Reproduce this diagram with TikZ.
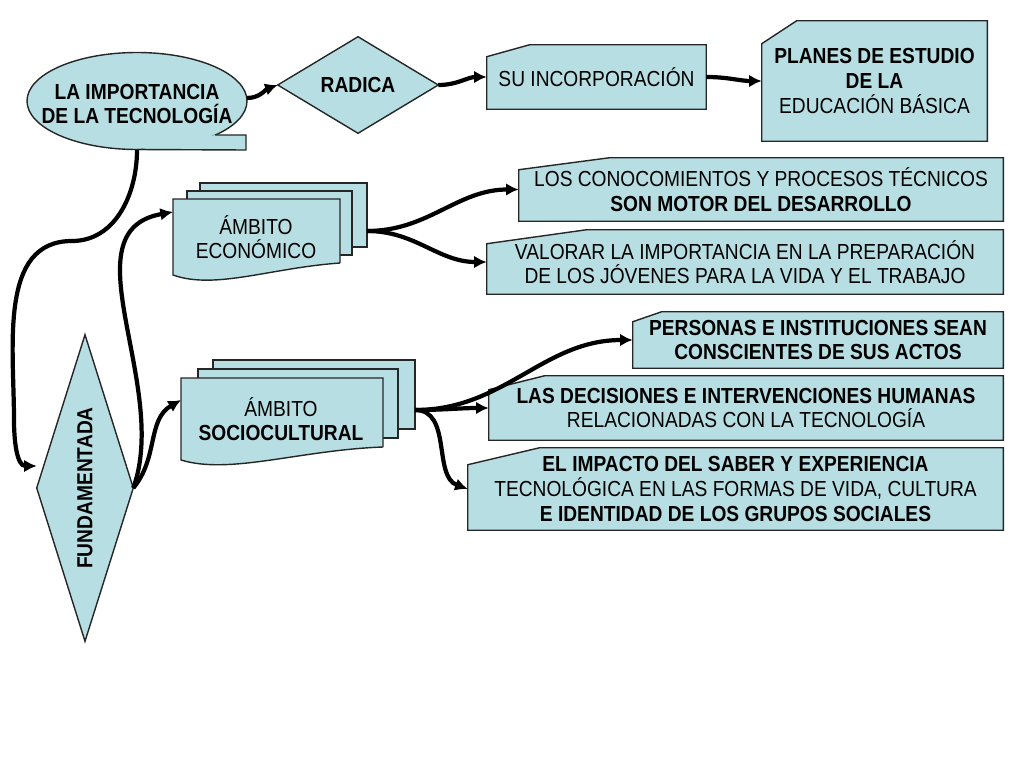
\documentclass[tikz,border=0pt]{standalone}
\usepackage{fontspec}
\setmainfont{Liberation Sans}[FakeStretch=0.88]
\usepackage{tikz}
\usetikzlibrary{arrows.meta,positioning,backgrounds,calc}
\definecolor{boxblue}{RGB}{183,223,227}
\tikzset{
	shapeline/.style = {draw=black!85, line width=1pt, fill=boxblue},
	boxtext/.style = {align=center, inner sep=0pt, font=\fontsize{15.5}{17.5}\selectfont},
	conn/.style = {line width=3pt, -{Latex[length=9pt,width=9pt]}},
}
% cut corner box drawn behind a named node: name, cut dx, cut dy (px)
\newcommand\cutedge[3]{%
	\begin{pgfonlayer}{background}
	\draw[shapeline] (#1.south west) -- ([yshift=-#3*0.025cm]#1.north west)
		-- ([xshift=#2*0.025cm]#1.north west) -- (#1.north east) -- (#1.south east) -- cycle;
	\end{pgfonlayer}}
\newcommand\diamondedge[1]{%
	\begin{pgfonlayer}{background}
	\draw[shapeline] (#1.north) -- (#1.east) -- (#1.south) -- (#1.west) -- cycle;
	\end{pgfonlayer}}

\begin{document}
\begin{tikzpicture}[x=0.025cm, y=-0.025cm]
	\useasboundingbox (0,0) rectangle (1024,768);
	
	% ellipse with tab
	\draw[shapeline] (137,101) ellipse (110 and 48.5);
	\fill[boxblue] (215,135) -- (246,135) -- (246,150) -- (137,150) -- cycle;
	\draw[black!85, line width=1pt] (215,135) -- (246,135) -- (246,150) -- (137,149.5);
	\node[boxtext] (imp) at (137,104) {\bfseries LA IMPORTANCIA\\ \bfseries DE LA TECNOLOGÍA};
	
	% diamonds
	\node[boxtext, minimum width=160*0.025cm, minimum height=96*0.025cm] (radica) at (358,85) {\bfseries RADICA};
	\diamondedge{radica}
	\node[boxtext, minimum width=96*0.025cm, minimum height=306*0.025cm] (fund) at (85,488) {};
	\node[boxtext, rotate=90] at (fund.center) {\bfseries FUNDAMENTADA};
	\diamondedge{fund}
	
	% cut corner boxes
	\node[boxtext, minimum width=219*0.025cm, minimum height=64*0.025cm] (inc) at (596.5,77) {SU INCORPORACIÓN};
	\cutedge{inc}{43}{12}
	\node[boxtext, minimum width=225*0.025cm, minimum height=120*0.025cm] (planes) at (874.5,81)
		{\bfseries PLANES DE ESTUDIO\\ \bfseries DE LA\\ EDUCACIÓN BÁSICA};
	\cutedge{planes}{35}{23}
	\node[boxtext, minimum width=484*0.025cm, minimum height=63*0.025cm] (conoc) at (761,189.5)
		{LOS CONOCOMIENTOS Y PROCESOS TÉCNICOS\\ \bfseries SON MOTOR DEL DESARROLLO};
	\cutedge{conoc}{91}{12}
	\node[boxtext, minimum width=516*0.025cm, minimum height=64*0.025cm] (valorar) at (745,262)
		{VALORAR LA IMPORTANCIA EN LA PREPARACIÓN\\ DE LOS JÓVENES PARA LA VIDA Y EL TRABAJO};
	\cutedge{valorar}{100}{14}
	\node[boxtext, minimum width=370*0.025cm, minimum height=56*0.025cm] (personas) at (818,340)
		{\bfseries PERSONAS E INSTITUCIONES SEAN\\ \bfseries CONSCIENTES DE SUS ACTOS};
	\cutedge{personas}{29}{10}
	\node[boxtext, minimum width=514*0.025cm, minimum height=64*0.025cm] (decis) at (746,408)
		{\bfseries LAS DECISIONES E INTERVENCIONES HUMANAS\\ RELACIONADAS CON LA TECNOLOGÍA};
	\cutedge{decis}{56}{14}
	\node[boxtext, minimum width=535*0.025cm, minimum height=82*0.025cm] (impacto) at (735.5,489)
		{\bfseries EL IMPACTO DEL SABER Y EXPERIENCIA\\ TECNOLÓGICA EN LAS FORMAS DE VIDA, CULTURA\\ \bfseries E IDENTIDAD DE LOS GRUPOS SOCIALES};
	\cutedge{impacto}{72}{17}
	
	% document stacks
	\draw[shapeline] (200,183) rectangle (367,247);
	\draw[shapeline] (187,191) rectangle (352,255);
	\draw[shapeline] (340,263) -- (340,199) -- (173,199) -- (173,275)
		.. controls (215,290) and (270,268) .. (340,263);
	\node[boxtext] (eco) at (256,237) {ÁMBITO\\ ECONÓMICO};
	\coordinate (ecoW) at (173,212);
	\coordinate (ecoR) at (367,231);
	
	\draw[shapeline] (213,360) rectangle (415,429);
	\draw[shapeline] (198,369) rectangle (398,438);
	\draw[shapeline] (383,447) -- (383,378) -- (181,378) -- (181,460)
		.. controls (230,475) and (300,450) .. (383,447);
	\node[boxtext] (soc) at (281,419) {ÁMBITO\\ \bfseries SOCIOCULTURAL};
	\coordinate (socW) at (181,400);
	\coordinate (socR) at (415,410);
	
	% connectors
	\draw[conn] (247,98) to[out=0,in=200] (radica.west);
	\draw[conn] (radica.east) to[out=0,in=180] (inc.west);
	\draw[conn] (inc.east) to[out=0,in=180] (planes.west);
	\coordinate (bendA) at (72,241);
	\coordinate (bendB) at (14,420);
	\draw[conn] (137,150) to[out=-90,in=0] (bendA) to[out=180,in=90] (bendB)
		to[out=-90,in=180] ([yshift=0.55cm]fund.west);
	\draw[conn] (fund.east) to[out=70,in=190] (ecoW);
	\draw[conn] (fund.east) to[out=50,in=210] (socW);
	\draw[conn] (ecoR) to[out=0,in=180] (conoc.west);
	\draw[conn] (ecoR) to[out=0,in=180] (valorar.west);
	\draw[conn] (socR) to[out=0,in=180] (personas.west);
	\draw[conn] (socR) to[out=0,in=180] (decis.west);
	\draw[conn] (socR) to[out=0,in=160] (impacto.west);
\end{tikzpicture}
\end{document}
